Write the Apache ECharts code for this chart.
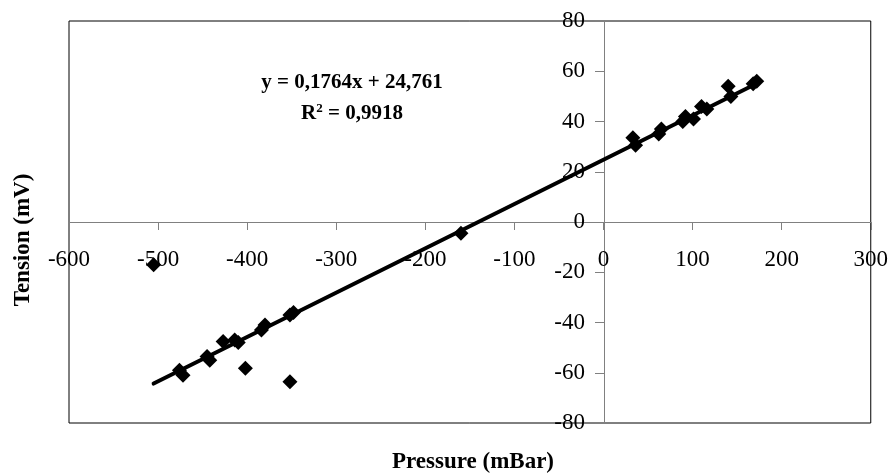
<!DOCTYPE html>
<html>
<head>
<meta charset="utf-8">
<script src="https://cdn.jsdelivr.net/npm/echarts@6/dist/echarts.min.js"></script>
<style>
    html, body { margin: 0; padding: 0; background: #fff; }
    #chart { width: 891px; height: 476px; }
</style>
</head>
<body>
<div id="chart"></div>
<script type="text/javascript">
    // measured points (pressure in mBar, tension in mV)
    var pressure = [-505, -476, -472, -445, -442, -427, -414, -410, -402, -384, -380, -352, -348, -352, -160,
                    33, 36, 62, 65, 89, 92, 101, 110, 116, 140, 143, 168, 172];
    var tension  = [-17, -59, -61, -53.5, -55, -47.6, -47, -48, -58.2, -43, -41, -37, -36, -63.6, -4.5,
                    33.5, 30.5, 35, 37, 40, 42, 41, 46, 45, 54, 50, 55, 56];
    // trendline end points
    var trendX = [-505, 172];
    var trendY = [-64.3, 55.1];
    var eqLine1 = 'y = 0,1764x + 24,761';
    var eqLine2 = '0,9918';

    var serif = "'Liberation Serif', 'Times New Roman', serif";

    var points = [];
    for (var i = 0; i < pressure.length; i++) {
        points.push([pressure[i], tension[i]]);
    }
    var trend = [];
    for (var j = 0; j < trendX.length; j++) {
        trend.push([trendX[j], trendY[j]]);
    }

    var myChart = echarts.init(document.getElementById('chart'));
    // axes cross at zero: x axis moved up 201px, y axis moved right 535px
    var option = {
        animation: false,
        grid: {
            left: 69, top: 21, right: 19, bottom: 53,
            show: true, borderColor: '#000', borderWidth: 1
        },
        xAxis: {
            type: 'value', min: -600, max: 300, interval: 100,
            position: 'bottom', offset: -201,
            axisLine: { onZero: false, lineStyle: { color: '#808080', width: 1 } },
            axisTick: { length: 8, lineStyle: { color: '#808080' } },
            axisLabel: { margin: 26, color: '#000', fontFamily: serif, fontSize: 23 },
            splitLine: { show: false }
        },
        yAxis: {
            type: 'value', min: -80, max: 80, interval: 20,
            position: 'left', offset: -535,
            axisLine: { onZero: false, lineStyle: { color: '#808080', width: 1 } },
            axisTick: { length: 9, lineStyle: { color: '#808080' } },
            axisLabel: { margin: 19, color: '#000', fontFamily: serif, fontSize: 23 },
            splitLine: { show: false }
        },
        series: [
            {
                type: 'line',
                data: trend,
                symbol: 'none',
                lineStyle: { color: '#000', width: 4, cap: 'round' },
                z: 2
            },
            {
                type: 'scatter',
                data: points,
                symbol: 'diamond',
                symbolSize: 15,
                itemStyle: { color: '#000', opacity: 1 },
                z: 3
            }
        ],
        graphic: [
            {
                type: 'text', x: 352, y: 83, silent: true,
                style: {
                    text: eqLine1, fill: '#000', fontFamily: serif, fontWeight: 'bold', fontSize: 21,
                    align: 'center', verticalAlign: 'middle'
                }
            },
            {
                type: 'text', x: 352, y: 114, silent: true,
                style: {
                    text: 'R{sup|2} = ' + eqLine2,
                    rich: { sup: { fontSize: 13, fontWeight: 'bold', fontFamily: serif, verticalAlign: 'top', padding: [0, 0, 10, 0] } },
                    fill: '#000', fontFamily: serif, fontWeight: 'bold', fontSize: 21,
                    align: 'center', verticalAlign: 'middle'
                }
            },
            {
                type: 'text', x: 23, y: 240, rotation: Math.PI / 2, silent: true,
                style: {
                    text: 'Tension (mV)', fill: '#000', fontFamily: serif, fontWeight: 'bold', fontSize: 23,
                    align: 'center', verticalAlign: 'middle'
                }
            },
            {
                type: 'text', x: 473, y: 462, silent: true,
                style: {
                    text: 'Pressure (mBar)', fill: '#000', fontFamily: serif, fontWeight: 'bold', fontSize: 23,
                    align: 'center', verticalAlign: 'middle'
                }
            }
        ]
    };
    myChart.setOption(option);
</script>
</body>
</html>
